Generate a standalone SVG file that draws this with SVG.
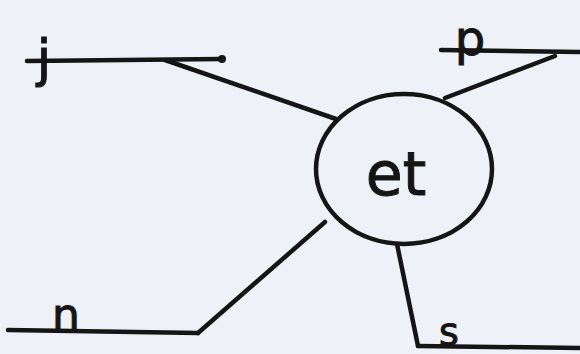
<svg xmlns="http://www.w3.org/2000/svg" width="580" height="354" viewBox="0 0 580 354">
<style>
.ln{stroke:#151515;stroke-width:4.5;stroke-linecap:round;fill:none}
.lbl{font-family:"DejaVu Sans",sans-serif;fill:#151515;stroke:#151515;stroke-width:1}
</style>
<rect width="580" height="354" fill="#eef1f7"/>
<g id="connectors">
<line class="ln" x1="165" y1="60" x2="336" y2="119"/>
<line class="ln" x1="555" y1="56" x2="445" y2="98"/>
<polyline class="ln" points="325,222 198,333"/>
<polyline class="ln" points="397,244 418,346"/>
</g>
<g id="node-j">
<line class="ln" x1="27" y1="61" x2="222" y2="59"/>
<circle cx="222" cy="59" r="4" fill="#151515"/>
<text class="lbl" x="44" y="76" font-size="52" text-anchor="middle">j</text>
</g>
<g id="node-p">
<line class="ln" x1="441" y1="50" x2="580" y2="52"/>
<text class="lbl" x="470" y="55" font-size="48" text-anchor="middle">p</text>
</g>
<g id="node-n">
<line class="ln" x1="8" y1="330" x2="198" y2="333"/>
<text class="lbl" x="66" y="330" font-size="44" text-anchor="middle">n</text>
</g>
<g id="node-s">
<line class="ln" x1="418" y1="346" x2="580" y2="348"/>
<text class="lbl" x="449" y="345" font-size="38" text-anchor="middle">s</text>
</g>
<g id="node-et">
<ellipse class="ln" cx="404" cy="169" rx="88" ry="75"/>
<text class="lbl" x="396" y="195" font-size="60" text-anchor="middle">et</text>
</g>
</svg>
